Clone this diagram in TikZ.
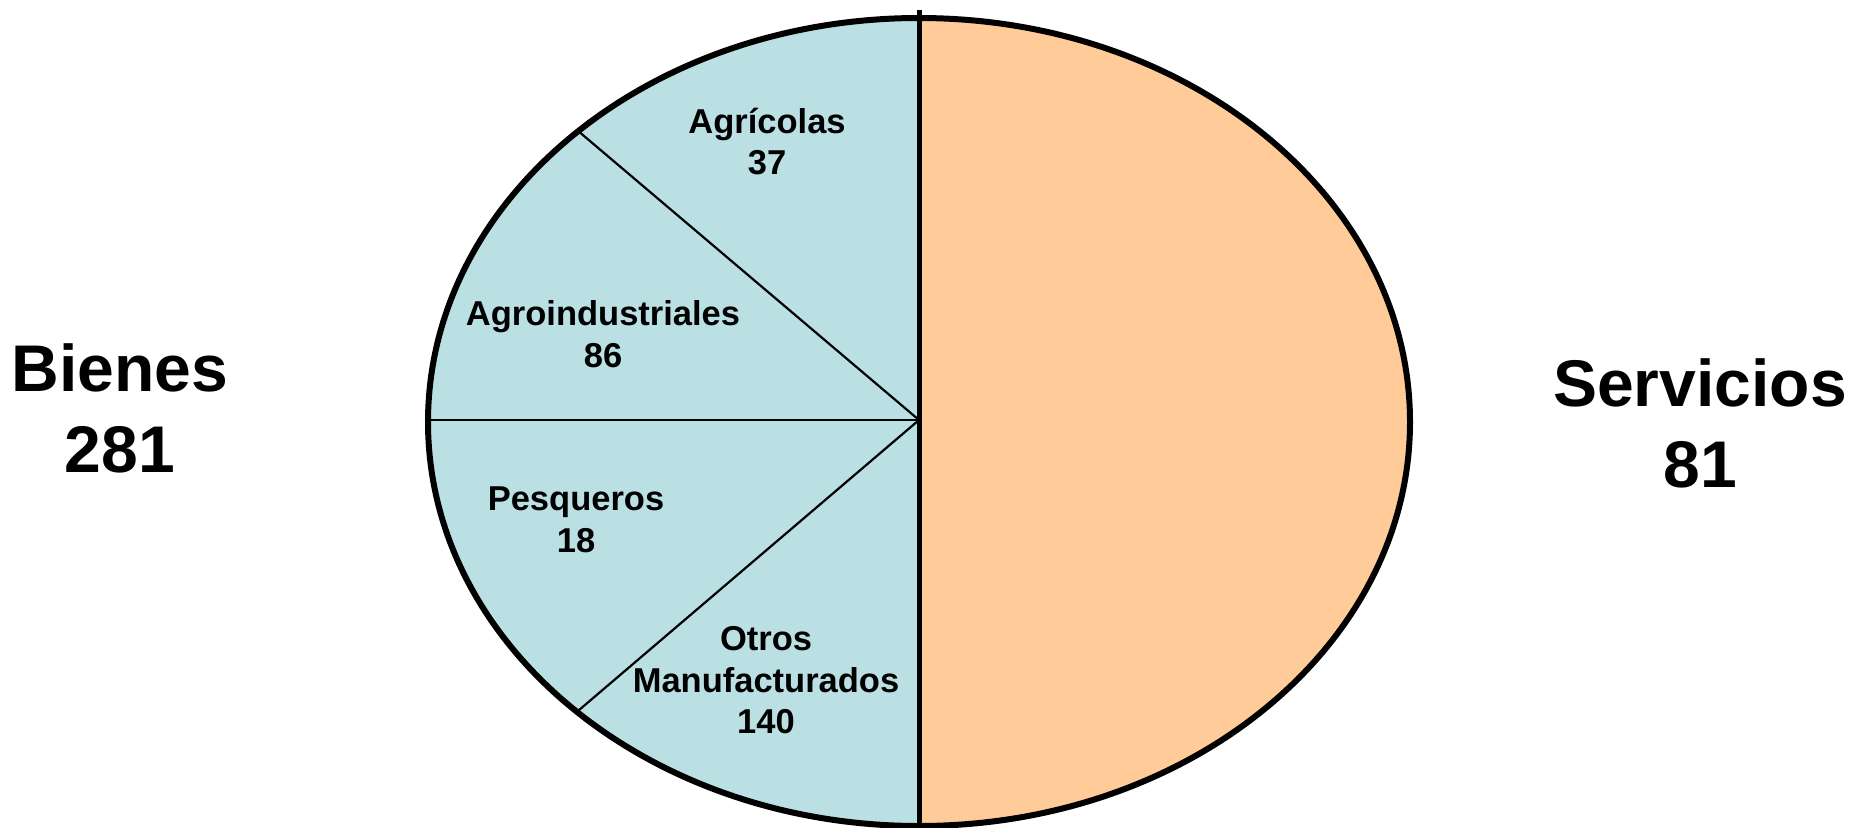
\documentclass[tikz,border=0pt]{standalone}
\usepackage{fontspec}
\setmainfont{Liberation Sans}
\definecolor{bienesblue}{RGB}{187,224,227}
\definecolor{servpeach}{RGB}{255,204,153}
\begin{document}
\begin{tikzpicture}[x=1pt,y=-1pt,
  small/.style={align=center,inner sep=0pt,font=\fontsize{34.5}{41.5}\selectfont\bfseries},
  big/.style={align=center,inner sep=0pt,font=\fontsize{66}{81}\selectfont\bfseries},
  rim/.style={line width=6pt},
  divider/.style={line width=2.2pt}]
\useasboundingbox (0,0) rectangle (1854,827);
\coordinate (c) at (919,420);
\coordinate (top) at (919,10);
\coordinate (bot) at (919,827);
\coordinate (ul) at (577.9,130.8);
\coordinate (ll) at (577.9,711);
\coordinate (lm) at (428,420);
% halves
\fill[bienesblue] (919,18) arc[start angle=270,end angle=90,x radius=491,y radius=404] -- cycle;
\fill[servpeach] (919,18) arc[start angle=-90,end angle=90,x radius=491,y radius=404] -- cycle;
% dividers
\draw[divider] (c) -- (ul);
\draw[divider] (c) -- (ll);
\draw[divider] (c) -- (lm);
% rim
\draw[rim] (919,422) ellipse[x radius=491,y radius=404];
\draw[line width=5pt] (top) -- (bot);
% labels
\node[small] (agr) at (767,141.5) {Agrícolas\\37};
\node[small] (agro) at (603,334) {Agroindustriales\\86};
\node[small] (pes) at (576,520) {Pesqueros\\18};
\node[small] (otr) at (766,680.5) {Otros\\Manufacturados\\140};
\node[big] (bien) at (120,408.5) {Bienes\\281};
\node[big] (serv) at (1700,423.5) {Servicios\\81};
\end{tikzpicture}
\end{document}
